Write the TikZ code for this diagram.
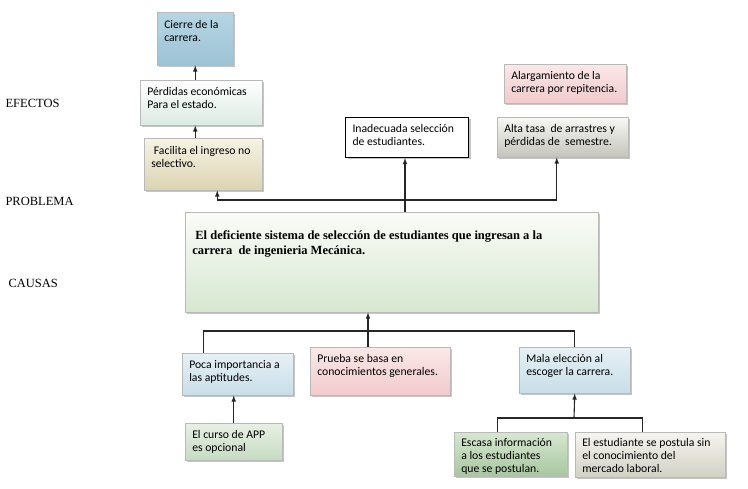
\documentclass[tikz,border=0pt]{standalone}
\usepackage{fontspec}
\setmainfont{Liberation Serif}
\newfontfamily\cajafont{Carlito}
\usetikzlibrary{shadows}

\definecolor{azulA}{HTML}{B6D5E3}
\definecolor{azulB}{HTML}{9DC3D5}
\definecolor{mentaB}{HTML}{DAEBE2}
\definecolor{beigeA}{HTML}{F6F3E4}
\definecolor{beigeB}{HTML}{DBD4B2}
\definecolor{rosaA}{HTML}{FBE8E8}
\definecolor{rosaB}{HTML}{F1CACC}
\definecolor{grisA}{HTML}{F8F8F4}
\definecolor{grisB}{HTML}{C4C4BC}
\definecolor{verdeA}{HTML}{FAFCF8}
\definecolor{verdeB}{HTML}{D6E7D0}
\definecolor{celesteA}{HTML}{E6F0F5}
\definecolor{celesteB}{HTML}{C8DEE8}
\definecolor{pastoA}{HTML}{E8F0E4}
\definecolor{pastoB}{HTML}{C6DBC2}
\definecolor{hojaA}{HTML}{D6E7D0}
\definecolor{hojaB}{HTML}{A7C79F}
\definecolor{arenaA}{HTML}{F5F4EF}
\definecolor{arenaB}{HTML}{D3D1C4}

% text block of a box: width, height (px), text
\newcommand{\cajatxt}[4][2pt]{\parbox[t][\dimexpr#3pt-8pt\relax][t]{\dimexpr#2pt-14pt\relax}{\raggedright\vspace*{#1}\strut#4}}

\begin{document}
\begin{tikzpicture}[x=1pt, y=-1pt, line width=1.1pt, draw=black!85,
  caja/.style={draw=gray!55, line width=0.5pt, anchor=north west,
    inner xsep=7pt, inner ysep=4pt,
    font=\cajafont\fontsize{11.7}{13}\selectfont,
    drop shadow={shadow xshift=2pt, shadow yshift=-2pt, fill=black!45, opacity=0.5}},
  flecha/.style={-latex},
  etiqueta/.style={anchor=base west, inner sep=0pt, font=\fontsize{12.5}{15}\selectfont}]

  \useasboundingbox (0,0) rectangle (748,489);

  % -- Row labels --
  \node[etiqueta] (efectos) at (5,108) {EFECTOS};
  \node[etiqueta] (problemalbl) at (5,206) {PROBLEMA};
  \node[etiqueta] (causas) at (8,288) {CAUSAS};

  % -- Effects --
  \node[caja, top color=azulA, bottom color=azulB] (cierre) at (157,12)
    {\cajatxt[3pt]{76}{53}{Cierre de la\\ carrera.}};
  \node[caja, top color=white, bottom color=mentaB] (perdidas) at (140,80)
    {\cajatxt{122}{45}{Pérdidas económicas\\ Para el estado.}};
  \node[caja, top color=beigeA, bottom color=beigeB] (facilita) at (144,138)
    {\cajatxt[3pt]{118}{52}{\ Facilita el ingreso no\\ selectivo.}};
  \node[caja, draw=black, line width=1pt, fill=white, drop shadow={opacity=0}] (inadecuada) at (345,117)
    {\cajatxt{123}{40}{Inadecuada selección\\ de estudiantes.}};
  \node[caja, top color=rosaA, bottom color=rosaB] (alargamiento) at (504,64)
    {\cajatxt{122}{39}{Alargamiento de la\\ carrera por repitencia.}};
  \node[caja, top color=grisA, bottom color=grisB] (altatasa) at (497,117)
    {\cajatxt{131}{40}{Alta tasa\ \ de arrastres y\\ pérdidas de\ \ semestre.}};

  % -- Problem --
  \node[caja, top color=verdeA, bottom color=verdeB,
    font=\bfseries\fontsize{12.5}{15}\selectfont] (problema) at (185,212)
    {\cajatxt[13pt]{413}{100}{\ El deficiente sistema de selección de estudiantes que ingresan a la\\ carrera\ \ de ingenieria Mecánica.}};

  % -- Causes --
  \node[caja, top color=celesteA, bottom color=celesteB] (poca) at (182,353)
    {\cajatxt{111}{42}{Poca importancia a\\ las aptitudes.}};
  \node[caja, top color=rosaA, bottom color=rosaB] (prueba) at (310,347)
    {\cajatxt{140}{48}{Prueba se basa en\\ conocimientos generales.}};
  \node[caja, top color=celesteA, bottom color=celesteB] (mala) at (519,347)
    {\cajatxt{111}{46}{Mala elección al\\ escoger la carrera.}};
  \node[caja, top color=pastoA, bottom color=pastoB] (curso) at (185,423)
    {\cajatxt{97}{37}{El curso de APP\\ es opcional}};
  \node[caja, top color=hojaA, bottom color=hojaB] (escasa) at (454,432)
    {\cajatxt[1pt]{113}{44}{Escasa información\\ a los estudiantes\\ que se postulan.}};
  \node[caja, top color=arenaA, bottom color=arenaB] (estudiante) at (575,432)
    {\cajatxt[1pt]{150}{45}{El estudiante se postula sin\\ el conocimiento del\\ mercado laboral.}};

  % -- Connectors, effects side --
  \draw[flecha] (facilita.north -| cierre.south) -- (perdidas.south -| cierre.south);
  \draw[flecha] (perdidas.north -| cierre.south) -- (cierre.south);
  \coordinate (sup) at (405,200);
  \draw (problema.north -| sup) -- (sup);
  \draw[flecha] (sup) -- (inadecuada.south -| sup);
  \draw[flecha] (sup) -| ([xshift=14pt]facilita.south);
  \draw[flecha] (sup) -| ([xshift=-6pt]altatasa.south);

  % -- Connectors, causes side --
  \coordinate (inf) at (368,331);
  \draw[flecha] (inf) -- (problema.south -| inf);
  \draw (inf) -- (prueba.north -| inf);
  \draw (inf) -| ([xshift=-34pt]poca.north);
  \draw (inf) -| (mala.north);
  \draw[flecha] (curso.north) -- (curso.north |- poca.south);
  \coordinate (mid) at (574,418);
  \draw[flecha] (mid) -- (mala.south);
  \draw (mid) -| ([xshift=-13pt]escasa.north);
  \draw (mid) -| ([xshift=-8pt]estudiante.north);

\end{tikzpicture}
\end{document}
